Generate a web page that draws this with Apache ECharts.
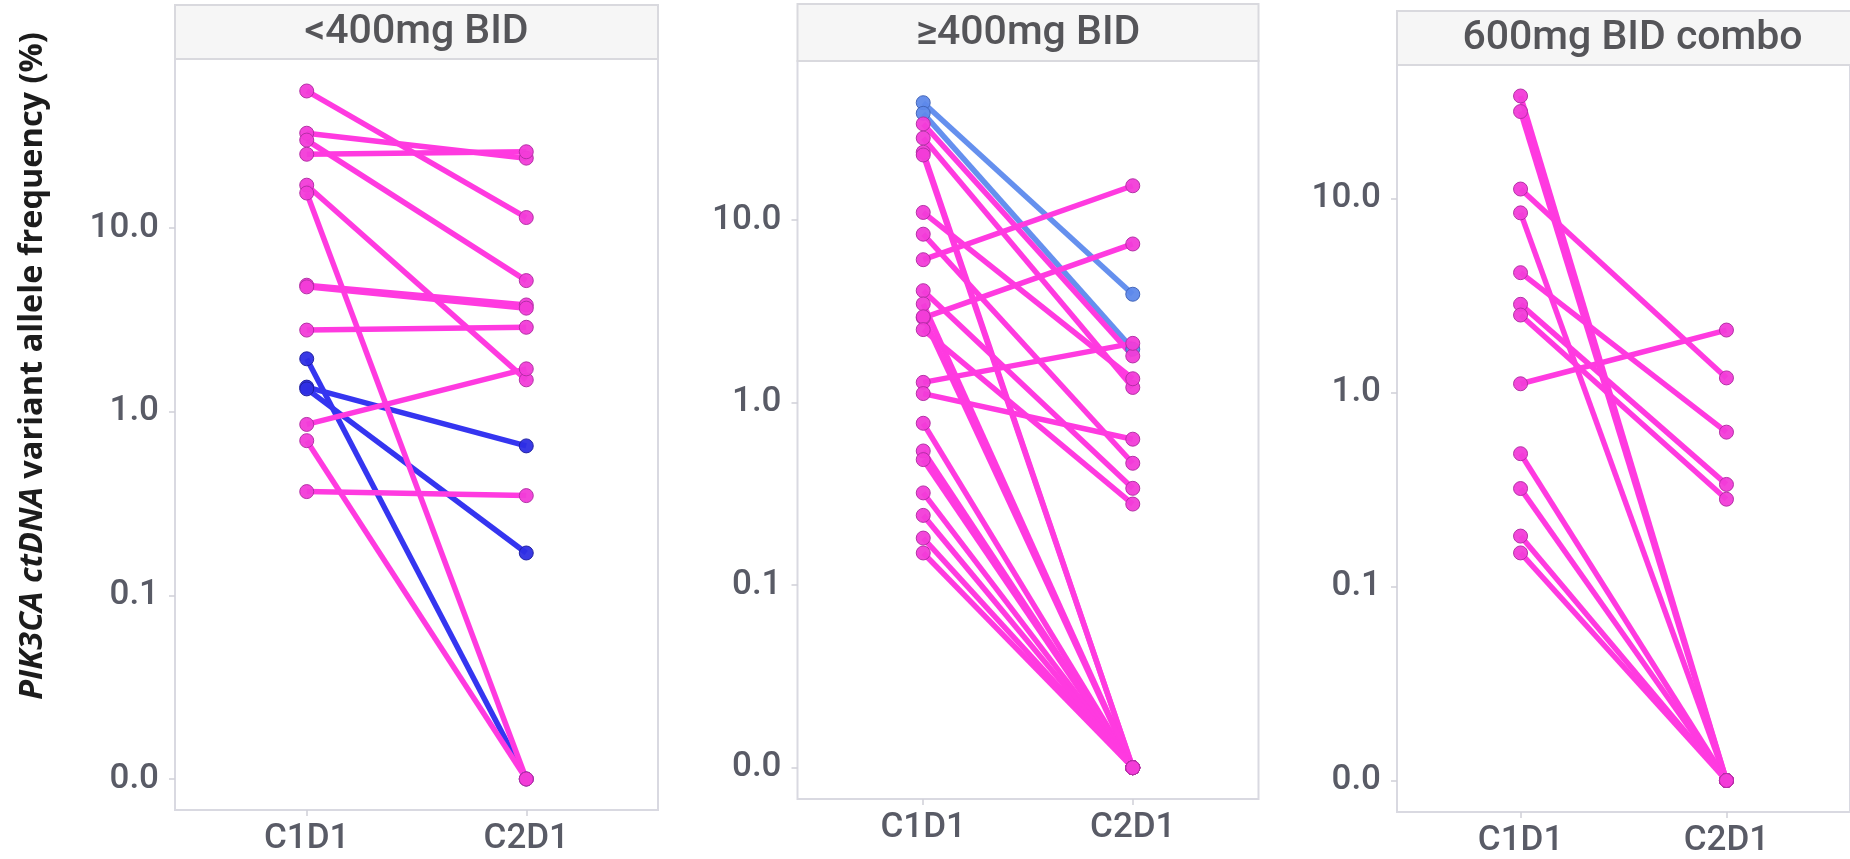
<!DOCTYPE html>
<html>
<head>
<meta charset="utf-8">
<script src="https://cdn.jsdelivr.net/npm/echarts@6/dist/echarts.min.js"></script>
<style>
html,body{margin:0;padding:0;background:#fff;overflow:hidden}
#c{width:1850px;height:859px}
</style>
</head>
<body>
<div id="c"></div>
<script>
// ---- data ----
const categories = ['C1D1', 'C2D1'];
const panelTitles = ['<400mg BID', '\u2265400mg BID', '600mg BID combo'];
const yTickValues = [0.01, 0.1, 1, 10];
const yTitleItalic = 'PIK3CA ctDNA';
const yTitleRest = ' variant allele frequency (%)';

// each pair: [C1D1, C2D1] (0.0 shown at 0.01 on the log scale)
const p1Blue = [[1.94, 0.01], [1.36, 0.651], [1.33, 0.17]];
const p1Pink = [[55.7, 11.4], [32.8, 24.0], [30.1, 5.17], [25.2, 26.0], [17.1, 1.49], [15.5, 0.01],
                [4.88, 3.81], [4.78, 3.66], [2.78, 2.88], [0.852, 1.71], [0.695, 0.01], [0.367, 0.349]];

const p2Blue = [[43.9, 3.92], [38.4, 1.96]];
const p2Pink = [[33.6, 1.80], [28.1, 1.21], [23.5, 0.01], [22.7, 0.01], [11.0, 1.35], [8.36, 0.465],
                [6.06, 15.4], [4.10, 0.339], [3.47, 0.01], [2.91, 7.39], [2.95, 0.01], [2.51, 0.278],
                [1.29, 2.11], [1.12, 0.63], [0.77, 0.01], [0.543, 0.01], [0.487, 0.01], [0.32, 0.01],
                [0.241, 0.01], [0.181, 0.01], [0.15, 0.01]];

const p3Pink = [[33.8, 0.01], [28.1, 0.01], [11.2, 1.19], [8.44, 0.01], [4.15, 0.625], [2.85, 0.336],
                [2.51, 0.282], [1.11, 2.10], [0.484, 0.01], [0.32, 0.01], [0.182, 0.01], [0.149, 0.01]];

// ---- styles / layout ----
const colors = {
  pink: {line: '#ff3ae0', fill: '#f23cd8', border: '#b02ca2'},
  blue: {line: '#3535f0', fill: '#2e2ee4', border: '#1e1e9e'},
  lightBlue: {line: '#6590ee', fill: '#5e89ea', border: '#3f62b6'}
};
const panels = [
  {left: 175, top: 59, width: 483, height: 751, headerTop: 5, yMin: 0.006779, yMax: 83.18,
   groups: [{pairs: p1Blue, c: colors.blue}, {pairs: p1Pink, c: colors.pink}]},
  {left: 797.5, top: 61, width: 461, height: 738, headerTop: 4, yMin: 0.006738, yMax: 74.27,
   groups: [{pairs: p2Blue, c: colors.lightBlue}, {pairs: p2Pink, c: colors.pink}]},
  {left: 1397, top: 65, width: 471, height: 749, headerTop: 11, yMin: 0.006880, yMax: 48.83,
   groups: [{pairs: p3Pink, c: colors.pink}]}
];

const labelColor = '#595b66';
const tickColor = '#cfd0d8';
const font = 'Roboto';

const grid = [], xAxis = [], yAxis = [], series = [], graphic = [];

panels.forEach((p, i) => {
  grid.push({left: p.left, top: p.top, width: p.width, height: p.height, show: true,
             borderColor: '#d9d9e1', borderWidth: 2, backgroundColor: '#fff', containLabel: false});
  xAxis.push({type: 'value', gridIndex: i, min: -0.6, max: 1.6, position: 'bottom',
    axisLine: {show: false, onZero: false}, splitLine: {show: false},
    axisTick: {show: true, length: 6, lineStyle: {color: tickColor, width: 1.5}, customValues: [0, 1]},
    axisLabel: {customValues: [0, 1], formatter: v => categories[Math.round(v)], margin: 12,
                color: labelColor, fontFamily: font, fontSize: 35, fontWeight: 500}});
  yAxis.push({type: 'log', gridIndex: i, min: p.yMin, max: p.yMax, logBase: 10, position: 'left',
    axisLine: {show: false, onZero: false}, splitLine: {show: false}, minorTick: {show: false},
    axisTick: {show: true, length: 6, lineStyle: {color: tickColor, width: 1.5}, customValues: yTickValues},
    axisLabel: {customValues: yTickValues, formatter: v => Number(v).toFixed(1), margin: 16,
                color: labelColor, fontFamily: font, fontSize: 35, fontWeight: 500}});
  // header strip
  const hh = p.top - p.headerTop;
  graphic.push({type: 'rect', shape: {x: p.left, y: p.headerTop, width: p.width, height: hh},
                style: {fill: '#f6f6f6', stroke: '#d9d9de', lineWidth: 2}, z: 10});
  graphic.push({type: 'text', x: p.left + p.width / 2, y: p.headerTop + hh / 2 + 1, z: 11,
                style: {text: panelTitles[i], fill: '#555559', font: '500 41px Roboto',
                        align: 'center', verticalAlign: 'middle'}});
  p.groups.forEach(g => {
    g.pairs.forEach(pr => {
      series.push({type: 'line', xAxisIndex: i, yAxisIndex: i, silent: true, animation: false,
        showSymbol: false, z: 2, lineStyle: {width: 5.5, color: g.c.line},
        data: [[0, pr[0]], [1, pr[1]]]});
    });
  });
  p.groups.forEach(g => {
    const pts = [];
    g.pairs.forEach(pr => { pts.push([0, pr[0]]); pts.push([1, pr[1]]); });
    series.push({type: 'scatter', xAxisIndex: i, yAxisIndex: i, silent: true, animation: false,
      symbol: 'circle', symbolSize: 14, z: 3,
      itemStyle: {color: g.c.fill, borderColor: g.c.border, borderWidth: 1, opacity: 0.95},
      data: pts});
  });
});

graphic.push({type: 'text', x: 33, y: 366, rotation: Math.PI / 2, z: 11,
  style: {text: '{i|' + yTitleItalic + '}{n|' + yTitleRest + '}', align: 'center', verticalAlign: 'middle',
    rich: {i: {fontStyle: 'italic', fontWeight: 'bold', fontSize: 32.5, fontFamily: 'Open Sans', fill: '#1c1c1c'},
           n: {fontWeight: 'bold', fontSize: 32.5, fontFamily: 'Open Sans', fill: '#1c1c1c'}}}});

const chart = echarts.init(document.getElementById('c'), null, {renderer: 'canvas'});
chart.setOption({animation: false, backgroundColor: '#fff', grid, xAxis, yAxis, series, graphic});
</script>
</body>
</html>
